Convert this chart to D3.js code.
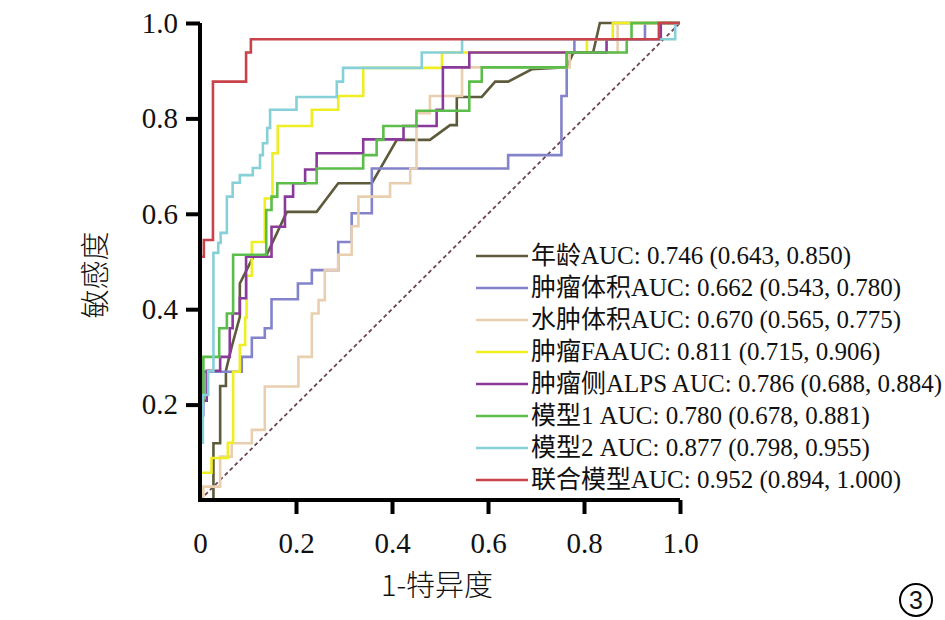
<!DOCTYPE html>
<html lang="zh">
<head>
<meta charset="UTF-8">
<title>ROC</title>
<script src="https://d3js.org/d3.v7.min.js"></script>
<style>
  body, html { margin: 0; padding: 0; background: #fff; overflow: hidden; }
  svg text { fill: #111; }
</style>
</head>
<body>
<svg id="chart" width="945" height="620"></svg>
<script>
// ROC points [1-specificity, sensitivity]
const rocAge = [[0,0],[0.028,0],[0.028,0.119],[0.042,0.119],[0.042,0.239],[0.054,0.239],[0.054,0.271],[0.066,0.321],[0.083,0.384],[0.083,0.454],[0.097,0.482],[0.111,0.51],[0.139,0.514],[0.181,0.604],[0.243,0.604],[0.288,0.664],[0.358,0.664],[0.41,0.755],[0.479,0.755],[0.521,0.786],[0.535,0.786],[0.535,0.845],[0.587,0.845],[0.615,0.877],[0.642,0.877],[0.691,0.903],[0.764,0.907],[0.778,0.938],[0.819,0.938],[0.833,1],[1,1]];
const rocTumorVol = [[0,0],[0,0.178],[0.007,0.269],[0.087,0.30],[0.108,0.34],[0.135,0.36],[0.149,0.421],[0.204,0.454],[0.233,0.482],[0.288,0.541],[0.316,0.601],[0.358,0.695],[0.642,0.723],[0.753,0.847],[0.764,0.938],[0.78,0.966],[0.927,1],[1,1]];
const rocEdemaVol = [[0,0],[0.007,0.028],[0.042,0.091],[0.066,0.119],[0.108,0.147],[0.135,0.238],[0.205,0.30],[0.233,0.391],[0.247,0.419],[0.26,0.482],[0.288,0.514],[0.316,0.574],[0.33,0.636],[0.396,0.664],[0.438,0.695],[0.451,0.811],[0.479,0.847],[0.546,0.907],[0.77,0.938],[0.87,1],[1,1]];
const rocTumorFA = [[0,0],[0,0.057],[0.024,0.088],[0.058,0.12],[0.069,0.269],[0.083,0.325],[0.094,0.382],[0.097,0.47],[0.108,0.541],[0.135,0.632],[0.151,0.727],[0.162,0.784],[0.233,0.818],[0.288,0.847],[0.34,0.906],[0.504,0.938],[0.806,0.966],[0.86,1],[1,1]];
const rocALPS = [[0,0],[0,0.208],[0.014,0.271],[0.042,0.30],[0.062,0.36],[0.068,0.391],[0.083,0.423],[0.096,0.51],[0.149,0.573],[0.177,0.636],[0.194,0.664],[0.219,0.693],[0.243,0.727],[0.34,0.756],[0.424,0.784],[0.493,0.818],[0.506,0.907],[0.561,0.938],[0.847,0.966],[0.96,1],[1,1]];
const rocModel1 = [[0,0],[0,0.206],[0.007,0.30],[0.04,0.36],[0.056,0.391],[0.069,0.514],[0.138,0.608],[0.149,0.636],[0.161,0.664],[0.243,0.695],[0.34,0.723],[0.368,0.755],[0.382,0.784],[0.451,0.816],[0.561,0.877],[0.587,0.907],[0.764,0.938],[0.889,0.966],[0.899,1],[1,1]];
const rocModel2 = [[0,0],[0,0.12],[0.006,0.22],[0.017,0.27],[0.028,0.518],[0.038,0.539],[0.043,0.56],[0.056,0.636],[0.068,0.665],[0.083,0.681],[0.110,0.696],[0.125,0.723],[0.131,0.748],[0.14,0.78],[0.146,0.818],[0.201,0.845],[0.285,0.877],[0.298,0.906],[0.462,0.938],[0.546,0.966],[0.99,1],[1,1]];
const rocCombined = [[0,0],[0,0.51],[0.008,0.545],[0.027,0.877],[0.096,0.938],[0.106,0.966],[0.956,1],[1,1]];

const seriesNames = ["年龄AUC: 0.746 (0.643, 0.850)", "肿瘤体积AUC: 0.662 (0.543, 0.780)", "水肿体积AUC: 0.670 (0.565, 0.775)",
  "肿瘤FAAUC: 0.811 (0.715, 0.906)", "肿瘤侧ALPS AUC: 0.786 (0.688, 0.884)", "模型1 AUC: 0.780 (0.678, 0.881)",
  "模型2 AUC: 0.877 (0.798, 0.955)", "联合模型AUC: 0.952 (0.894, 1.000)"];
const seriesColors = ["#5e5b3c", "#8383cc", "#e9cfb0", "#eeee22", "#8a3a9a", "#5cbd4a", "#86d0d8", "#c8434a"];
const seriesData = [rocAge, rocTumorVol, rocEdemaVol, rocTumorFA, rocALPS, rocModel1, rocModel2, rocCombined];
const xTicks = [0, 0.2, 0.4, 0.6, 0.8, 1.0];
const yTicks = [0.2, 0.4, 0.6, 0.8, 1.0];

const svg = d3.select("#chart");
const x = d3.scaleLinear().domain([0, 1]).range([200, 680]);
const y = d3.scaleLinear().domain([0, 1]).range([500, 23]);
const serif = "'Liberation Serif', 'Times New Roman', 'Noto Sans CJK SC', serif";

// reference diagonal
svg.append("line")
  .attr("x1", x(0)).attr("y1", y(0)).attr("x2", x(1)).attr("y2", y(1))
  .attr("stroke", "#6e4556").attr("stroke-width", 1.8).attr("stroke-dasharray", "4,3");

// curves (age curve has tied steps, drawn straight)
seriesData.forEach((pts, i) => {
  const line = d3.line()
    .x(d => x(d[0])).y(d => y(d[1]))
    .curve(i === 0 ? d3.curveLinear : d3.curveStepAfter);
  svg.append("path")
    .datum(pts)
    .attr("d", line)
    .attr("fill", "none")
    .attr("stroke", seriesColors[i])
    .attr("stroke-width", 2.6);
});

// axes
const xAxis = svg.append("g")
  .attr("transform", `translate(0,${y(0)})`)
  .call(d3.axisBottom(x).tickValues(xTicks).tickFormat(d => d === 0 ? "0" : d3.format(".1f")(d))
    .tickSize(14).tickSizeOuter(0).tickPadding(18));
const yAxis = svg.append("g")
  .attr("transform", `translate(${x(0)},0)`)
  .call(d3.axisLeft(y).tickValues(yTicks).tickFormat(d3.format(".1f"))
    .tickSize(14).tickSizeOuter(0).tickPadding(8));

[xAxis, yAxis].forEach(g => {
  g.select(".domain").attr("stroke", "#000").attr("stroke-width", 4);
  g.selectAll(".tick line").attr("stroke", "#000").attr("stroke-width", 4);
  g.selectAll(".tick text").attr("font-family", serif).attr("font-size", 29).attr("fill", "#111");
});
xAxis.selectAll(".tick").filter(d => d === 0).select("line").remove();
yAxis.select(".domain").attr("d", `M0,${y(0) + 2}V${y(1)}`);
xAxis.select(".domain").attr("d", `M${x(0) - 2},0H${x(1)}`);

// axis titles
svg.append("text")
  .attr("transform", "translate(106,275) rotate(-90)")
  .attr("text-anchor", "middle")
  .attr("font-family", "'Noto Sans CJK SC', sans-serif")
  .attr("font-weight", 300)
  .attr("font-size", 29)
  .text("敏感度");
svg.append("text")
  .attr("x", 437).attr("y", 596)
  .attr("text-anchor", "middle")
  .attr("font-family", "'Noto Sans CJK SC', sans-serif")
  .attr("font-weight", 300)
  .attr("font-size", 29)
  .text("1-特异度");

// legend
const legend = svg.append("g");
seriesNames.forEach((name, i) => {
  const ly = 256 + i * 32;
  legend.append("line")
    .attr("x1", 476).attr("x2", 528).attr("y1", ly).attr("y2", ly)
    .attr("stroke", seriesColors[i]).attr("stroke-width", 2.6);
  legend.append("text")
    .attr("x", 531).attr("y", ly + 8)
    .attr("font-family", serif)
    .attr("font-size", 25)
    .text(name);
});

// panel mark
svg.append("circle").attr("cx", 916).attr("cy", 600).attr("r", 16)
  .attr("fill", "none").attr("stroke", "#000").attr("stroke-width", 2);
svg.append("text").attr("x", 916).attr("y", 609)
  .attr("text-anchor", "middle")
  .attr("font-family", "'Liberation Sans', Arial, sans-serif")
  .attr("font-size", 25)
  .text("3");
</script>
</body>
</html>
